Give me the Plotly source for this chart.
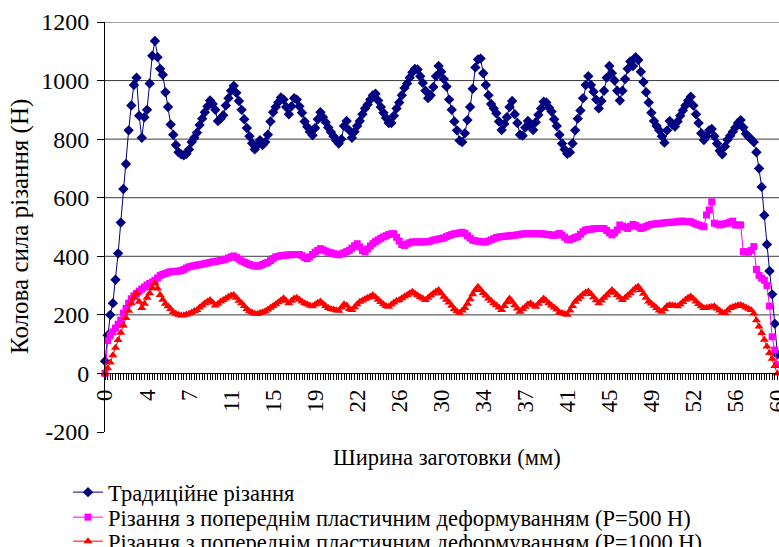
import plotly.graph_objects as go

# Category axis: 257 measurement points across 60 mm width
N_POINTS = 257
TICK_LABELS = ["0", "4", "7", "11", "15", "19", "22", "26", "30", "34",
               "37", "41", "45", "49", "52", "56", "60"]
TICK_STEP = 16

SERIES_NAMES = [
    "Традиційне різання",
    "Різання з попереднім пластичним деформуванням (Р=500 Н)",
    "Різання з попереднім пластичним деформуванням (Р=1000 Н)",
]

traditional = [
    42, 130, 200, 240, 320, 410, 515, 630, 715, 830,
    915, 985, 1010, 880, 805, 875, 900, 990, 1085, 1135,
    1080, 1040, 1020, 960, 910, 850, 815, 780, 755, 748,
    745, 750, 765, 790, 805, 822, 848, 870, 892, 912,
    932, 920, 900, 862, 870, 882, 915, 940, 965, 982,
    958, 930, 900, 868, 838, 810, 786, 765, 780, 796,
    780, 790, 815, 860, 892, 910, 926, 942, 935, 910,
    885, 912, 940, 935, 912, 890, 860, 842, 825, 813,
    838, 868, 892, 875, 858, 840, 824, 810, 795, 785,
    800, 845, 862, 830, 805, 825, 845, 862, 885, 905,
    918, 935, 950, 955, 932, 910, 890, 872, 855, 855,
    880, 905, 925, 950, 975, 990, 1010, 1028, 1040, 1038,
    1015, 992, 965, 940, 950, 978, 1015, 1050, 1030, 1005,
    980, 935, 900, 860, 830, 795, 790, 820, 865, 910,
    972, 1045, 1072, 1075, 1025, 985, 950, 920, 905, 888,
    860, 831, 852, 875, 910, 930, 885, 855, 815, 812,
    840, 862, 845, 831, 858, 883, 905, 928, 925, 908,
    894, 868, 845, 815, 785, 765, 750, 755, 785, 830,
    870, 898, 940, 985, 1015, 985, 962, 935, 905, 930,
    965, 1010, 1050, 1025, 1000, 965, 932, 965, 1005, 1040,
    1065, 1050, 1080, 1070, 1030, 995, 960, 925, 890, 862,
    845, 830, 810, 788, 830, 862, 850, 843, 860, 880,
    898, 915, 932, 945, 915, 885, 855, 820, 797, 810,
    830, 835, 810, 785, 760, 748, 775, 798, 812, 825,
    840, 855, 865, 840, 818, 808, 800, 790, 755, 700,
    637, 540, 440, 350, 270, 170, 65,
]

deformed_500 = [
    0, 112, 130, 142, 155, 168, 182, 206, 222, 240,
    255, 265, 273, 281, 288, 295, 302, 307, 312, 318,
    326, 334, 338, 341, 345, 347, 348, 349, 349, 351,
    355, 360, 364, 366, 368, 370, 371, 373, 375, 377,
    379, 381, 382, 384, 386, 388, 390, 394, 398, 401,
    396, 390, 384, 380, 376, 372, 369, 367, 366, 368,
    372, 376, 379, 385, 392, 398, 400, 402, 403, 404,
    405, 405, 406, 406, 406, 402, 396, 392, 398, 406,
    414, 420, 426, 422, 418, 414, 412, 409, 406, 405,
    408, 412, 416, 420, 428, 436, 443, 432, 420, 415,
    425, 435, 443, 450, 456, 461, 466, 470, 474, 477,
    477, 465, 452, 440, 437, 442, 446, 449, 449, 449,
    449, 449, 449, 450, 452, 455, 457, 459, 460, 463,
    467, 471, 474, 477, 478, 480, 482, 478, 470, 462,
    455, 453, 451, 450, 449, 449, 452, 456, 460, 464,
    466, 467, 468, 469, 470, 471, 472, 473, 475, 476,
    477, 477, 477, 477, 477, 477, 477, 476, 475, 474,
    472, 471, 474, 478, 472, 465, 458, 456, 460, 464,
    467, 475, 484, 490, 491, 492, 494, 495, 495, 495,
    495, 488, 480, 473, 480, 490, 507, 503, 499, 495,
    502, 509, 505, 500, 495, 498, 502, 506, 509, 510,
    511, 512, 513, 514, 515, 516, 516, 517, 518, 520,
    520, 519, 518, 518, 514, 510, 507, 504, 501, 541,
    558, 586, 513, 510, 507, 509, 511, 513, 517, 520,
    507, 507, 507, 416, 415, 414, 420, 433, 355, 335,
    325, 318, 300, 230, 125, 80, 30,
]

deformed_1000 = [
    0, 18, 37, 62, 88, 114, 139, 164, 189, 214,
    240, 258, 274, 245, 223, 238, 258, 274, 292, 308,
    290, 268, 252, 238, 229, 220, 210, 204, 200, 198,
    199, 201, 204, 208, 213, 217, 225, 232, 240, 246,
    251, 242, 232, 238, 246, 251, 256, 262, 266, 268,
    258, 248, 240, 230, 220, 212, 208, 204, 203, 206,
    209, 212, 218, 224, 230, 236, 243, 250, 257, 248,
    240, 248, 256, 258, 252, 246, 240, 236, 232, 229,
    235, 241, 246, 238, 230, 223, 220, 218, 216, 214,
    225, 236, 232, 220, 217, 226, 236, 245, 249, 254,
    258, 263, 268, 260, 252, 244, 236, 230, 228, 235,
    242, 248, 251, 257, 263, 268, 274, 279, 273, 267,
    261, 256, 251, 258, 266, 273, 280, 285, 274, 262,
    252, 242, 231, 220, 212, 206, 215, 223, 238, 253,
    270, 285, 296, 285, 275, 266, 256, 248, 240, 233,
    225, 217, 230, 243, 256, 245, 233, 222, 211, 220,
    228, 236, 240, 233, 228, 238, 247, 256, 248, 240,
    232, 225, 218, 208, 206, 203, 200, 215, 230, 245,
    254, 262, 270, 276, 280, 271, 260, 250, 240, 249,
    258, 267, 276, 285, 276, 268, 259, 251, 258, 266,
    274, 283, 292, 297, 285, 272, 258, 246, 239, 231,
    223, 215, 211, 220, 230, 234, 232, 231, 229, 236,
    244, 252, 258, 263, 255, 246, 237, 229, 223, 224,
    226, 228, 229, 222, 215, 208, 206, 215, 223, 227,
    230, 233, 234, 230, 225, 221, 217, 205, 182, 160,
    138, 115, 92, 70, 50, 25, 0,
]

Y_TICKS = [-200, 0, 200, 400, 600, 800, 1000, 1200]
Y_TICK_LABELS = ["-200", "0", "200", "400", "600", "800", "1000", "1200"]
GRID_VALUES = [200, 400, 600, 800, 1000, 1200]

FONT = "Liberation Serif"

# pixel geometry of the plot area
L, R, T, B = 105, 0, 22, 115
W, H = 779, 547
PW, PH = W - L - R, H - T - B


def px_x(p):
    return (p - L) / PW


def px_y(p):
    return (H - B - p) / PH


x = list(range(N_POINTS))
tickvals = list(range(0, N_POINTS, TICK_STEP))

fig = go.Figure()
styles = [
    ("#000080", "diamond", 8),
    ("#FF00FF", "square", 7),
    ("#FF0000", "triangle-up", 8),
]
legend_ids = ["legend", "legend2", "legend3"]
for name, vals, (col, sym, sz), lg in zip(SERIES_NAMES,
                                          [traditional, deformed_500, deformed_1000],
                                          styles, legend_ids):
    fig.add_trace(go.Scatter(
        x=x, y=vals, name=name, mode="lines+markers",
        line=dict(color=col, width=1),
        marker=dict(symbol=sym, size=sz, color=col, line=dict(width=0)),
        cliponaxis=False, legend=lg,
    ))

for g in GRID_VALUES:
    fig.add_shape(type="line", xref="paper", yref="y", x0=0, x1=1, y0=g, y1=g,
                  line=dict(color="#3a3a3a", width=1), layer="below")

ymin, ymax = Y_TICKS[0], Y_TICKS[-1]

legend_centers = [489, 514, 538]
legend_common = dict(xanchor="left", yanchor="top",
                     font=dict(family=FONT, size=22.5, color="black"),
                     bgcolor="rgba(0,0,0,0)")

fig.update_layout(
    width=W, height=H,
    margin=dict(l=L, r=R, t=T, b=B, autoexpand=False),
    paper_bgcolor="white", plot_bgcolor="white",
    font=dict(family=FONT, color="black", size=20),
    xaxis=dict(
        range=[0, 256.6], anchor="free",
        position=(0 - ymin) / (ymax - ymin),
        showline=True, linecolor="black", linewidth=1,
        tickmode="array", tickvals=tickvals, ticktext=TICK_LABELS,
        tickangle=-90, ticks="outside", ticklen=6, tickcolor="black",
        tickfont=dict(family=FONT, size=23, color="black"),
        ticklabeloverflow="allow",
        showgrid=False, zeroline=False,
        minor=dict(tickmode="linear", tick0=0, dtick=1, ticks="outside",
                   ticklen=6, tickcolor="black", tickwidth=1, showgrid=False),
    ),
    yaxis=dict(
        range=[ymin, ymax], tickmode="array", tickvals=Y_TICKS,
        ticktext=Y_TICK_LABELS,
        showline=True, linecolor="black", linewidth=1,
        ticks="outside", ticklen=7, tickcolor="black",
        tickfont=dict(family=FONT, size=24, color="black"),
        ticklabelstandoff=3,
        showgrid=False, zeroline=False,
    ),
    showlegend=True,
    legend=dict(x=px_x(68), y=px_y(legend_centers[0] - 18), **legend_common),
    legend2=dict(x=px_x(68), y=px_y(legend_centers[1] - 18), **legend_common),
    legend3=dict(x=px_x(68), y=px_y(legend_centers[2] - 18), **legend_common),
    annotations=[
        dict(text="Колова сила різання (Н)", textangle=-90,
             x=px_x(20), y=px_y(227), xref="paper", yref="paper",
             xanchor="center", yanchor="middle", showarrow=False,
             font=dict(family=FONT, size=25, color="black")),
        dict(text="Ширина заготовки (мм)",
             x=px_x(447), y=px_y(457), xref="paper", yref="paper",
             xanchor="center", yanchor="middle", showarrow=False,
             font=dict(family=FONT, size=22.5, color="black")),
    ],
)

fig.write_html("out.html")
